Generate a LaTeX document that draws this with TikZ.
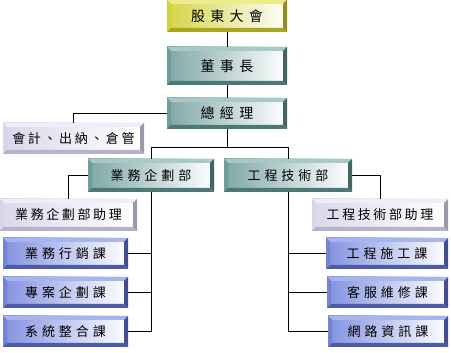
\documentclass[tikz,border=0pt]{standalone}
\usepackage{fontspec}
\newfontfamily\cjk[LetterSpace=30]{Noto Sans CJK TC}
\newfontfamily\cjknarrow[LetterSpace=20]{Noto Sans CJK TC}
\newfontfamily\cjkwide[LetterSpace=38]{Noto Sans CJK TC}
\definecolor{yelA}{HTML}{D2D23C}
\definecolor{yelL}{HTML}{ECEC8C}
\definecolor{yelD}{HTML}{A8A81E}
\definecolor{yelF}{HTML}{D4D446}
\definecolor{tealA}{HTML}{6E9E9C}
\definecolor{tealL}{HTML}{A9C9C7}
\definecolor{tealD}{HTML}{4C7876}
\definecolor{tealF}{HTML}{7EA8A6}
\definecolor{lavA}{HTML}{D6D6E6}
\definecolor{lavL}{HTML}{EEEEF6}
\definecolor{lavD}{HTML}{B4B4C8}
\definecolor{lavF}{HTML}{D8D8EA}
\definecolor{bluA}{HTML}{7484D4}
\definecolor{bluL}{HTML}{A8B4EC}
\definecolor{bluD}{HTML}{4E5CA8}
\definecolor{bluF}{HTML}{8292E0}
\tikzset{
  x=1pt, y=-1pt,
  bevelbox/.style={rectangle, inner sep=0pt, outer sep=0pt, anchor=north west,
    left color=#1F, middle color=#1F!40!white, right color=white,
    path picture={
      \fill[#1L] (path picture bounding box.north west) -- (path picture bounding box.north east)
        -- ([xshift=-4pt,yshift=-4pt]path picture bounding box.north east)
        -- ([xshift=4pt,yshift=-4pt]path picture bounding box.north west) -- cycle;
      \fill[#1A] (path picture bounding box.north west) -- ([xshift=4pt,yshift=-4pt]path picture bounding box.north west)
        -- ([xshift=4pt,yshift=4pt]path picture bounding box.south west)
        -- (path picture bounding box.south west) -- cycle;
      \fill[#1D] (path picture bounding box.south west) -- (path picture bounding box.south east)
        -- ([xshift=-4pt,yshift=4pt]path picture bounding box.south east)
        -- ([xshift=4pt,yshift=4pt]path picture bounding box.south west) -- cycle;
      \fill[#1D!85!black] (path picture bounding box.north east) -- ([xshift=-4pt,yshift=-4pt]path picture bounding box.north east)
        -- ([xshift=-4pt,yshift=4pt]path picture bounding box.south east)
        -- (path picture bounding box.south east) -- cycle;
    }},
  topbox/.style={bevelbox=#1, font=\cjkwide\fontsize{14pt}{16pt}\selectfont},
  unitbox/.style={bevelbox=#1, font=\cjk\fontsize{13pt}{15pt}\selectfont},
  longbox/.style={bevelbox=#1, font=\cjknarrow\fontsize{13pt}{15pt}\selectfont},
  link/.style={draw=black, line width=0.8pt},
}
\begin{document}
\begin{tikzpicture}
\useasboundingbox (0,0) rectangle (451,353);
% top chain
\node[topbox=yel, minimum width=120pt, minimum height=32pt] (gd) at (167,0) {股東大會};
\node[topbox=teal, minimum width=120pt, minimum height=38pt] (dsz) at (167,47) {董事長};
\node[topbox=teal, minimum width=120pt, minimum height=31pt] (zjl) at (167,98) {總經理};
\node[longbox=lav, minimum width=141pt, minimum height=31pt] (acc) at (3,123) {會計、出納、倉管};
% departments
\node[unitbox=teal, minimum width=126pt, minimum height=33pt] (yw) at (88,159) {業務企劃部};
\node[unitbox=teal, minimum width=128pt, minimum height=33pt] (gc) at (224,159) {工程技術部};
% assistants
\node[longbox=lav, minimum width=137pt, minimum height=32pt] (ywa) at (0,199) {業務企劃部助理};
\node[longbox=lav, minimum width=136pt, minimum height=32pt] (gca) at (312,199) {工程技術部助理};
% left sections
\node[unitbox=blu, minimum width=125pt, minimum height=31pt] (y1) at (3,238) {業務行銷課};
\node[unitbox=blu, minimum width=125pt, minimum height=31pt] (y2) at (3,277) {專案企劃課};
\node[unitbox=blu, minimum width=125pt, minimum height=31pt] (y3) at (3,316) {系統整合課};
% right sections
\node[unitbox=blu, minimum width=122pt, minimum height=31pt] (g1) at (326,238) {工程施工課};
\node[unitbox=blu, minimum width=121pt, minimum height=31pt] (g2) at (327,277) {客服維修課};
\node[unitbox=blu, minimum width=120pt, minimum height=31pt] (g3) at (328,316) {網路資訊課};
% connectors
\draw[link] (gd.south) -- (dsz.north);
\draw[link] (dsz.south) -- (zjl.north);
\draw[link] (zjl.west) -| (acc.north);
\coordinate (split) at ([yshift=-18pt]zjl.south);
\draw[link] (zjl.south) -- (split);
\draw[link] (split) -| (yw.north);
\draw[link] (split) -| (gc.north);
\draw[link] (yw.west) -| (ywa.north);
\draw[link] (gc.east) -| (gca.north);
\draw[link] (yw.south) |- (y3.east);
\draw[link] (y1.east) -- (y1.east -| yw.south);
\draw[link] (y2.east) -- (y2.east -| yw.south);
\draw[link] (gc.south) |- (g3.west);
\draw[link] (g1.west) -- (g1.west -| gc.south);
\draw[link] (g2.west) -- (g2.west -| gc.south);
\end{tikzpicture}
\end{document}
